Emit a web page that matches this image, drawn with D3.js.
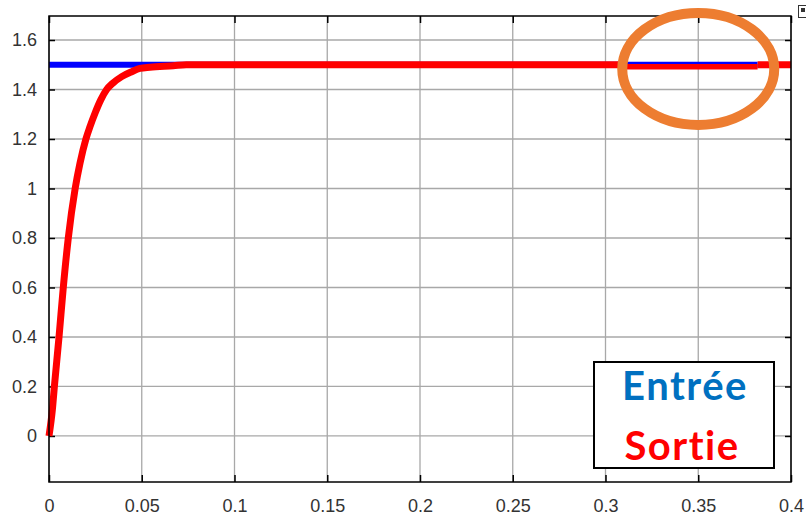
<!DOCTYPE html>
<html>
<head>
<meta charset="utf-8">
<script src="https://cdn.jsdelivr.net/npm/d3@7"></script>
<style>
  body { margin: 0; background: #fff; }
  svg { display: block; }
</style>
</head>
<body>
<script>
// tick values and labels
var xTicks = [0, 0.05, 0.1, 0.15, 0.2, 0.25, 0.3, 0.35, 0.4];
var xLabels = ["0", "0.05", "0.1", "0.15", "0.2", "0.25", "0.3", "0.35", "0.4"];
var yTicks = [0, 0.2, 0.4, 0.6, 0.8, 1, 1.2, 1.4, 1.6];
var yLabels = ["0", "0.2", "0.4", "0.6", "0.8", "1", "1.2", "1.4", "1.6"];

// input (Entrée): step of 1.5
var inT = [0, 0.382];
var inV = [1.5, 1.5];

// output (Sortie)
var outT = [0, 0.0018, 0.0029, 0.0054, 0.0077, 0.0104, 0.0141, 0.0167, 0.0199, 0.0221, 0.0248,
            0.0279, 0.0311, 0.0343, 0.0392, 0.0446, 0.049, 0.0544, 0.067, 0.074, 0.3115];
var outV = [0, 0.105, 0.2, 0.4, 0.6, 0.8, 1.0, 1.102, 1.2, 1.25, 1.304,
            1.358, 1.4, 1.425, 1.452, 1.472, 1.485, 1.49, 1.496, 1.5, 1.5];
// inside the highlighted zone the output sits just under the input
var zoneT = [0.3115, 0.382];
var zoneV = [1.492, 1.492];
var tailT = [0.382, 0.4];
var tailV = [1.5, 1.5];

function createChart() {
    var w = 806;
    var h = 515;
    var pLeft = 49, pRight = 791, pTop = 16, pBottom = 482;

    var xScale = d3.scaleLinear().domain([0, 0.4]).range([pLeft, pRight]);
    var yScale = d3.scaleLinear().domain([-0.186, 1.697]).range([pBottom, pTop]);

    var svg = d3.select("body")
        .append("svg")
        .attr("width", w)
        .attr("height", h);

    // grid
    svg.append("g")
        .selectAll("line")
        .data(xTicks)
        .enter()
        .append("line")
        .attr("x1", function (d) { return xScale(d); })
        .attr("x2", function (d) { return xScale(d); })
        .attr("y1", pTop)
        .attr("y2", pBottom)
        .attr("stroke", "#a8a8a8")
        .attr("stroke-width", 1.3);

    svg.append("g")
        .selectAll("line")
        .data(yTicks)
        .enter()
        .append("line")
        .attr("x1", pLeft)
        .attr("x2", pRight)
        .attr("y1", function (d) { return yScale(d); })
        .attr("y2", function (d) { return yScale(d); })
        .attr("stroke", "#a8a8a8")
        .attr("stroke-width", 1.3);

    // axes (MATLAB style: inward ticks on all four sides)
    var xAxis = d3.axisBottom(xScale).tickValues(xTicks).tickSize(-7).tickPadding(17)
        .tickFormat(function (d, i) { return xLabels[i]; });
    var xAxisTop = d3.axisTop(xScale).tickValues(xTicks).tickSize(-7).tickFormat("");
    var yAxis = d3.axisLeft(yScale).tickValues(yTicks).tickSize(-6).tickPadding(12)
        .tickFormat(function (d, i) { return yLabels[i]; });
    var yAxisRight = d3.axisRight(yScale).tickValues(yTicks).tickSize(-6).tickFormat("");

    function styleAxis(g) {
        g.select(".domain").remove();
        g.selectAll(".tick line").attr("stroke", "#000").attr("stroke-width", 1.5);
        g.selectAll("text")
            .attr("fill", "#333")
            .style("font-family", "'Liberation Sans', Arial, sans-serif")
            .style("font-size", "18px");
    }

    svg.append("g").attr("transform", "translate(0," + pBottom + ")").call(xAxis).call(styleAxis);
    svg.append("g").attr("transform", "translate(0," + pTop + ")").call(xAxisTop).call(styleAxis);
    svg.append("g").attr("transform", "translate(" + pLeft + ",0)").call(yAxis).call(styleAxis);
    svg.append("g").attr("transform", "translate(" + pRight + ",0)").call(yAxisRight).call(styleAxis);

    // curves
    var line = d3.line()
        .x(function (d) { return xScale(d[0]); })
        .y(function (d) { return yScale(d[1]); });

    function pairs(t, v) { return t.map(function (d, i) { return [d, v[i]]; }); }

    svg.append("path")
        .datum(pairs(inT, inV))
        .attr("fill", "none")
        .attr("stroke", "#0000ff")
        .attr("stroke-width", 6)
        .attr("d", line);

    svg.append("path")
        .datum(pairs(outT, outV))
        .attr("fill", "none")
        .attr("stroke", "#ff0000")
        .attr("stroke-width", 7)
        .attr("stroke-linejoin", "round")
        .attr("d", line.curve(d3.curveMonotoneX));

    line.curve(d3.curveLinear);

    svg.append("path")
        .datum(pairs(zoneT, zoneV))
        .attr("fill", "none")
        .attr("stroke", "#ff0000")
        .attr("stroke-width", 5.5)
        .attr("d", line);

    svg.append("path")
        .datum(pairs(tailT, tailV))
        .attr("fill", "none")
        .attr("stroke", "#ff0000")
        .attr("stroke-width", 7)
        .attr("d", line);

    // plot frame
    svg.append("rect")
        .attr("x", pLeft)
        .attr("y", pTop)
        .attr("width", pRight - pLeft)
        .attr("height", pBottom - pTop)
        .attr("fill", "none")
        .attr("stroke", "#000")
        .attr("stroke-width", 1.5);

    // orange highlight ellipse
    svg.append("ellipse")
        .attr("cx", xScale(0.35))
        .attr("cy", yScale(1.483))
        .attr("rx", 76)
        .attr("ry", 56)
        .attr("fill", "none")
        .attr("stroke", "#ed7d31")
        .attr("stroke-width", 10);

    // small icon cut at the top right corner
    svg.append("rect")
        .attr("x", 798.5)
        .attr("y", 5.5)
        .attr("width", 10)
        .attr("height", 12)
        .attr("fill", "#fff")
        .attr("stroke", "#333")
        .attr("stroke-width", 1);
    svg.append("rect")
        .attr("x", 801)
        .attr("y", 8)
        .attr("width", 4)
        .attr("height", 4)
        .attr("fill", "#333");

    // legend box
    var legend = svg.append("g");
    legend.append("rect")
        .attr("x", 594)
        .attr("y", 362)
        .attr("width", 180)
        .attr("height", 106)
        .attr("fill", "#fff")
        .attr("stroke", "#000")
        .attr("stroke-width", 2);

    legend.append("text")
        .attr("x", 685)
        .attr("y", 400)
        .attr("text-anchor", "middle")
        .attr("fill", "#0070c0")
        .style("font-family", "Lato, 'Open Sans', sans-serif")
        .style("font-weight", "bold")
        .style("font-size", "40px")
        .style("letter-spacing", "1.5px")
        .style("font-variant-ligatures", "none")
        .text("Entrée");

    legend.append("text")
        .attr("x", 682)
        .attr("y", 460)
        .attr("text-anchor", "middle")
        .attr("fill", "#ff0000")
        .style("font-family", "Lato, 'Open Sans', sans-serif")
        .style("font-weight", "bold")
        .style("font-size", "40px")
        .style("letter-spacing", "1.5px")
        .style("font-variant-ligatures", "none")
        .text("Sortie");
}

createChart();
</script>
</body>
</html>
